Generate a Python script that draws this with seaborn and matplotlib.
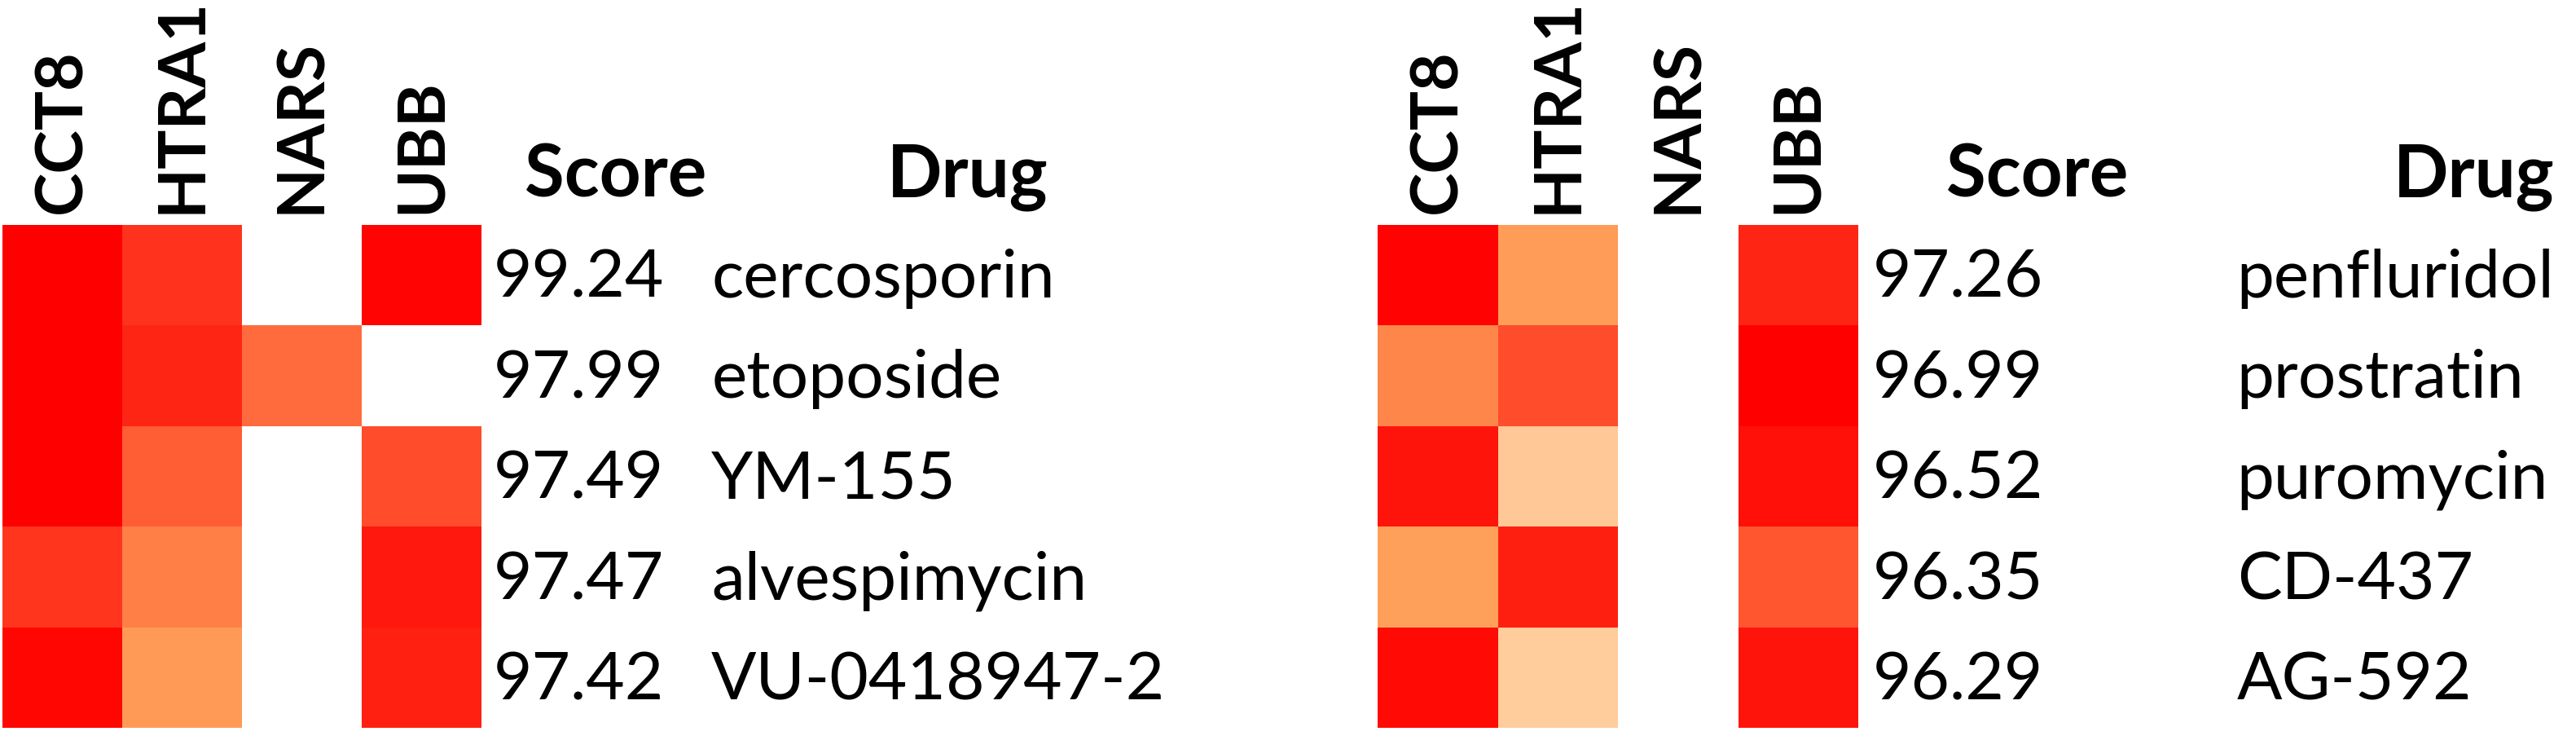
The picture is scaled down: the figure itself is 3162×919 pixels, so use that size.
import numpy as np
import pandas as pd
import seaborn as sns
import matplotlib.pyplot as plt
from matplotlib.colors import LinearSegmentedColormap

# genes (columns) shared by both panels
genes = ["CCT8", "HTRA1", "NARS", "UBB"]

# left panel
drugs_left = ["cercosporin", "etoposide", "YM-155", "alvespimycin", "VU-0418947-2"]
scores_left = ["99.24", "97.99", "97.49", "97.47", "97.42"]
cct8_left = [1.00, 1.00, 1.00, 0.74, 0.97]
htra1_left = [0.75, 0.82, 0.55, 0.38, 0.25]
nars_left = [np.nan, 0.48, np.nan, np.nan, np.nan]
ubb_left = [0.98, np.nan, 0.63, 0.88, 0.84]

# right panel
drugs_right = ["penfluridol", "prostratin", "puromycin", "CD-437", "AG-592"]
scores_right = ["97.26", "96.99", "96.52", "96.35", "96.29"]
cct8_right = [0.99, 0.35, 0.90, 0.22, 0.95]
htra1_right = [0.24, 0.63, 0.02, 0.85, 0.00]
nars_right = [np.nan, np.nan, np.nan, np.nan, np.nan]
ubb_right = [0.82, 1.00, 0.92, 0.58, 0.90]

df_left = pd.DataFrame({"CCT8": cct8_left, "HTRA1": htra1_left,
                        "NARS": nars_left, "UBB": ubb_left}, index=drugs_left)
df_right = pd.DataFrame({"CCT8": cct8_right, "HTRA1": htra1_right,
                         "NARS": nars_right, "UBB": ubb_right}, index=drugs_right)

cmap = LinearSegmentedColormap.from_list(
    "peach_red", [(0.0, "#FFCC9C"), (0.22, "#FFA05A"), (1.0, "#FF0000")])

sns.set_style("white")
plt.rcParams["font.family"] = ["Lato", "DejaVu Sans"]
plt.rcParams["text.color"] = "black"
plt.rcParams["xtick.color"] = "black"
plt.rcParams["xtick.labelcolor"] = "black"

W, H = 3162, 919
fig = plt.figure(figsize=(W / 100, H / 100), dpi=100)

ax1 = fig.add_axes([3 / W, 26 / H, 588 / W, 617 / H])
ax2 = fig.add_axes([1691 / W, 26 / H, 590 / W, 617 / H])


def draw_panel(ax, df, scores, score_x, drug_x, score_hx, drug_hx):
    sns.heatmap(df, ax=ax, cmap=cmap, vmin=0, vmax=1, cbar=False,
                linewidths=0, xticklabels=genes, yticklabels=False)
    ax.xaxis.tick_top()
    ax.tick_params(axis="x", length=0, pad=10, labelcolor="black")
    for lab in ax.get_xticklabels():
        lab.set_rotation(90)
        lab.set_fontsize(58)
        lab.set_fontweight("bold")
        lab.set_va("bottom")
    ax.set_xlabel("")
    ax.set_ylabel("")
    for i, (s, d) in enumerate(zip(scores, df.index)):
        ax.text(score_x, i + 0.72, s, fontsize=59, va="baseline",
                ha="left", clip_on=False)
        ax.text(drug_x, i + 0.72, d, fontsize=59, va="baseline",
                ha="left", clip_on=False)
    ax.text(score_hx, -0.28, "Score", fontsize=64, fontweight="bold",
            va="baseline", ha="center", clip_on=False)
    ax.text(drug_hx, -0.28, "Drug", fontsize=64, fontweight="bold",
            va="baseline", ha="center", clip_on=False)
    for sp in ax.spines.values():
        sp.set_visible(False)


draw_panel(ax1, df_left, scores_left, 4.1, 5.92, 5.12, 8.06)
draw_panel(ax2, df_right, scores_right, 4.12, 7.15, 5.49, 9.12)

fig.savefig("out.png", dpi=100, facecolor="white")
